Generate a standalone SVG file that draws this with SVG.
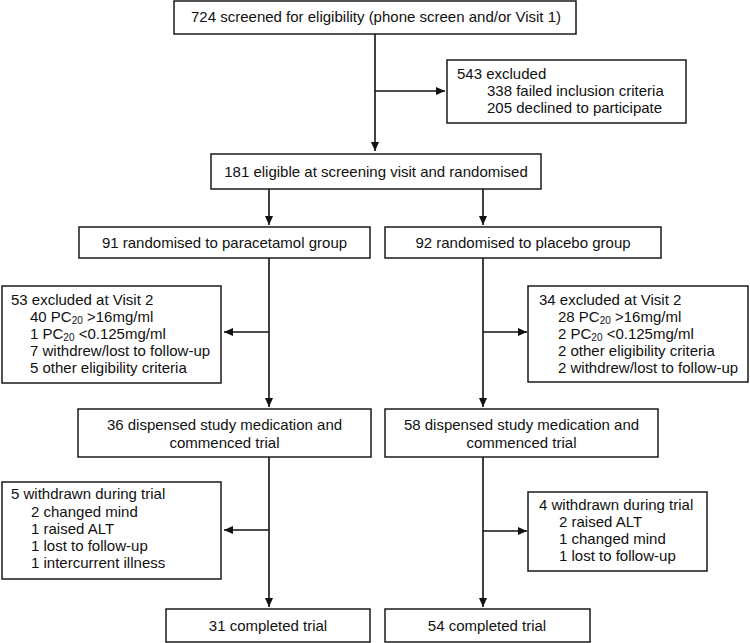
<svg xmlns="http://www.w3.org/2000/svg" width="750" height="643" viewBox="0 0 750 643">
<defs>
<style>
.box{fill:#fff;stroke:#1a1a1a;stroke-width:1.5}
.t{font-family:"Liberation Sans",Arial,sans-serif;font-size:15px;fill:#111}
.c{text-anchor:middle}
.sub{font-size:10px}
.ln{fill:none;stroke:#111;stroke-width:1.6}
</style>
<marker id="ah" markerWidth="10" markerHeight="8" refX="9" refY="4" orient="auto" markerUnits="userSpaceOnUse">
<path d="M0,0 L9,4 L0,8 Z" fill="#111"/>
</marker>
</defs>
<rect width="750" height="643" fill="#fff"/>
<g id="connectors">
<path class="ln" d="M375,34 V151" marker-end="url(#ah)"/>
<path class="ln" d="M375,91 H445" marker-end="url(#ah)"/>
<path class="ln" d="M269,189 V225" marker-end="url(#ah)"/>
<path class="ln" d="M483,189 V225" marker-end="url(#ah)"/>
<path class="ln" d="M269,258 V407" marker-end="url(#ah)"/>
<path class="ln" d="M269,332 H224" marker-end="url(#ah)"/>
<path class="ln" d="M483,258 V407" marker-end="url(#ah)"/>
<path class="ln" d="M483,332 H527" marker-end="url(#ah)"/>
<path class="ln" d="M269,457 V607" marker-end="url(#ah)"/>
<path class="ln" d="M269,530 H224" marker-end="url(#ah)"/>
<path class="ln" d="M483,457 V607" marker-end="url(#ah)"/>
<path class="ln" d="M483,531 H527" marker-end="url(#ah)"/>
</g>
<g id="screened">
<rect class="box" x="174" y="1" width="402" height="33"/>
<text class="t c" x="376" y="22">724 screened for eligibility (phone screen and/or Visit 1)</text>
</g>
<g id="excluded543">
<rect class="box" x="447" y="60" width="239" height="63"/>
<text class="t" x="457" y="79">543 excluded</text>
<text class="t" x="487" y="96">338 failed inclusion criteria</text>
<text class="t" x="487" y="113">205 declined to participate</text>
</g>
<g id="eligible">
<rect class="box" x="211" y="154" width="330" height="35"/>
<text class="t c" x="376" y="177">181 eligible at screening visit and randomised</text>
</g>
<g id="paracetamol">
<rect class="box" x="79" y="227" width="291" height="31"/>
<text class="t c" x="224.5" y="248">91 randomised to paracetamol group</text>
</g>
<g id="placebo">
<rect class="box" x="385" y="227" width="276" height="31"/>
<text class="t c" x="523" y="248">92 randomised to placebo group</text>
</g>
<g id="excluded53">
<rect class="box" x="2" y="286" width="219" height="97"/>
<text class="t" x="11" y="305">53 excluded at Visit 2</text>
<text class="t" x="30" y="322">40 PC<tspan class="sub" dy="1.5">20</tspan><tspan dy="-1.5"> &gt;16mg/ml</tspan></text>
<text class="t" x="30" y="339">1 PC<tspan class="sub" dy="1.5">20</tspan><tspan dy="-1.5"> &lt;0.125mg/ml</tspan></text>
<text class="t" x="30" y="356">7 withdrew/lost to follow-up</text>
<text class="t" x="30" y="373">5 other eligibility criteria</text>
</g>
<g id="excluded34">
<rect class="box" x="528" y="286" width="220" height="96"/>
<text class="t" x="539" y="305">34 excluded at Visit 2</text>
<text class="t" x="558" y="322">28 PC<tspan class="sub" dy="1.5">20</tspan><tspan dy="-1.5"> &gt;16mg/ml</tspan></text>
<text class="t" x="558" y="339">2 PC<tspan class="sub" dy="1.5">20</tspan><tspan dy="-1.5"> &lt;0.125mg/ml</tspan></text>
<text class="t" x="558" y="356">2 other eligibility criteria</text>
<text class="t" x="558" y="373">2 withdrew/lost to follow-up</text>
</g>
<g id="dispensed36">
<rect class="box" x="78" y="409" width="293" height="48"/>
<text class="t c" x="224.5" y="430">36 dispensed study medication and</text>
<text class="t c" x="224.5" y="448">commenced trial</text>
</g>
<g id="dispensed58">
<rect class="box" x="385" y="409" width="273" height="48"/>
<text class="t c" x="521.5" y="430">58 dispensed study medication and</text>
<text class="t c" x="521.5" y="448">commenced trial</text>
</g>
<g id="withdrawn5">
<rect class="box" x="2" y="482" width="219" height="97"/>
<text class="t" x="11" y="499">5 withdrawn during trial</text>
<text class="t" x="31" y="517">2 changed mind</text>
<text class="t" x="31" y="534">1 raised ALT</text>
<text class="t" x="31" y="551">1 lost to follow-up</text>
<text class="t" x="31" y="568">1 intercurrent illness</text>
</g>
<g id="withdrawn4">
<rect class="box" x="528" y="492" width="179" height="79"/>
<text class="t" x="539" y="510">4 withdrawn during trial</text>
<text class="t" x="559" y="527">2 raised ALT</text>
<text class="t" x="559" y="544">1 changed mind</text>
<text class="t" x="559" y="561">1 lost to follow-up</text>
</g>
<g id="completed31">
<rect class="box" x="166" y="609" width="204" height="33"/>
<text class="t c" x="268" y="631">31 completed trial</text>
</g>
<g id="completed54">
<rect class="box" x="385" y="609" width="205" height="33"/>
<text class="t c" x="487" y="631">54 completed trial</text>
</g>
</svg>
